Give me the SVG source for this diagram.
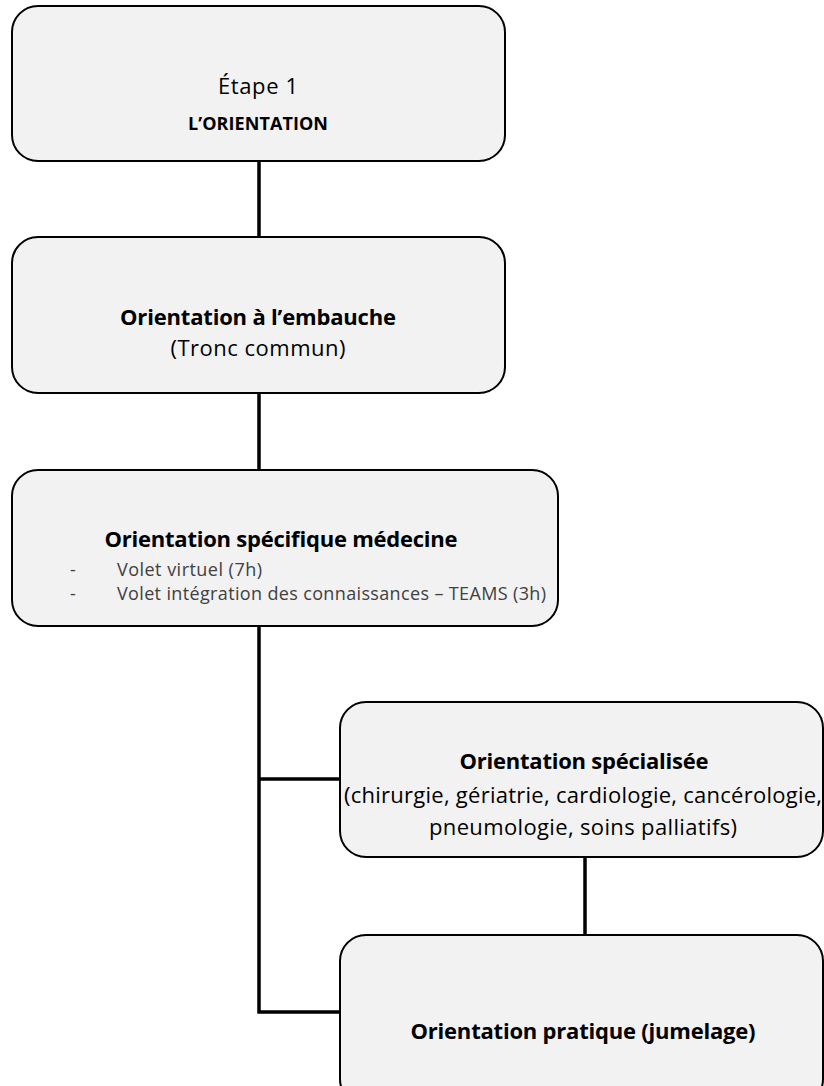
<svg xmlns="http://www.w3.org/2000/svg" width="824" height="1086" viewBox="0 0 824 1086">
<style>
.box{fill:#f2f2f2;stroke:#000;stroke-width:2}
.con{stroke:#000;stroke-width:3.5;fill:none}
text{font-family:"Open Sans","Noto Sans","Liberation Sans",sans-serif;fill:#000;text-anchor:middle}
.b{font-weight:bold}
.n{font-size:22px}
.s{font-size:18px;fill:#404040;text-anchor:start}
</style>
<rect width="824" height="1086" fill="#fff"/>
<g id="connectors">
<line class="con" x1="259" y1="161" x2="259" y2="237"/>
<line class="con" x1="259" y1="393" x2="259" y2="470"/>
<polyline class="con" points="259,626 259,1012 340,1012"/>
<line class="con" x1="259" y1="779" x2="340" y2="779"/>
<line class="con" x1="585" y1="857" x2="585" y2="935"/>
</g>
<g id="node1">
<rect class="box" x="12" y="6" width="493" height="155" rx="26"/>
<text class="n" x="258" y="94" textLength="80">Étape 1</text>
<text class="b" x="258" y="130" font-size="18" textLength="140">L’ORIENTATION</text>
</g>
<g id="node2">
<rect class="box" x="12" y="237" width="493" height="156" rx="26"/>
<text class="n b" x="258" y="325" textLength="276">Orientation à l’embauche</text>
<text class="n" x="258" y="356" textLength="175">(Tronc commun)</text>
</g>
<g id="node3">
<rect class="box" x="12" y="470" width="546" height="156" rx="26"/>
<text class="n b" x="281" y="547" textLength="353">Orientation spécifique médecine</text>
<text class="s" x="70" y="576">-</text>
<text class="s" x="117" y="576" textLength="145">Volet virtuel (7h)</text>
<text class="s" x="70" y="600">-</text>
<text class="s" x="117" y="600" textLength="429">Volet intégration des connaissances – TEAMS (3h)</text>
</g>
<g id="node4">
<rect class="box" x="340" y="702" width="483" height="155" rx="26"/>
<text class="n b" x="584" y="769" textLength="249">Orientation spécialisée</text>
<text class="n" x="583" y="803" textLength="478">(chirurgie, gériatrie, cardiologie, cancérologie,</text>
<text class="n" x="583" y="835" textLength="308">pneumologie, soins palliatifs)</text>
</g>
<g id="node5">
<rect class="box" x="340" y="935" width="483" height="170" rx="26"/>
<text class="n b" x="583" y="1039" textLength="345">Orientation pratique (jumelage)</text>
</g>
</svg>
